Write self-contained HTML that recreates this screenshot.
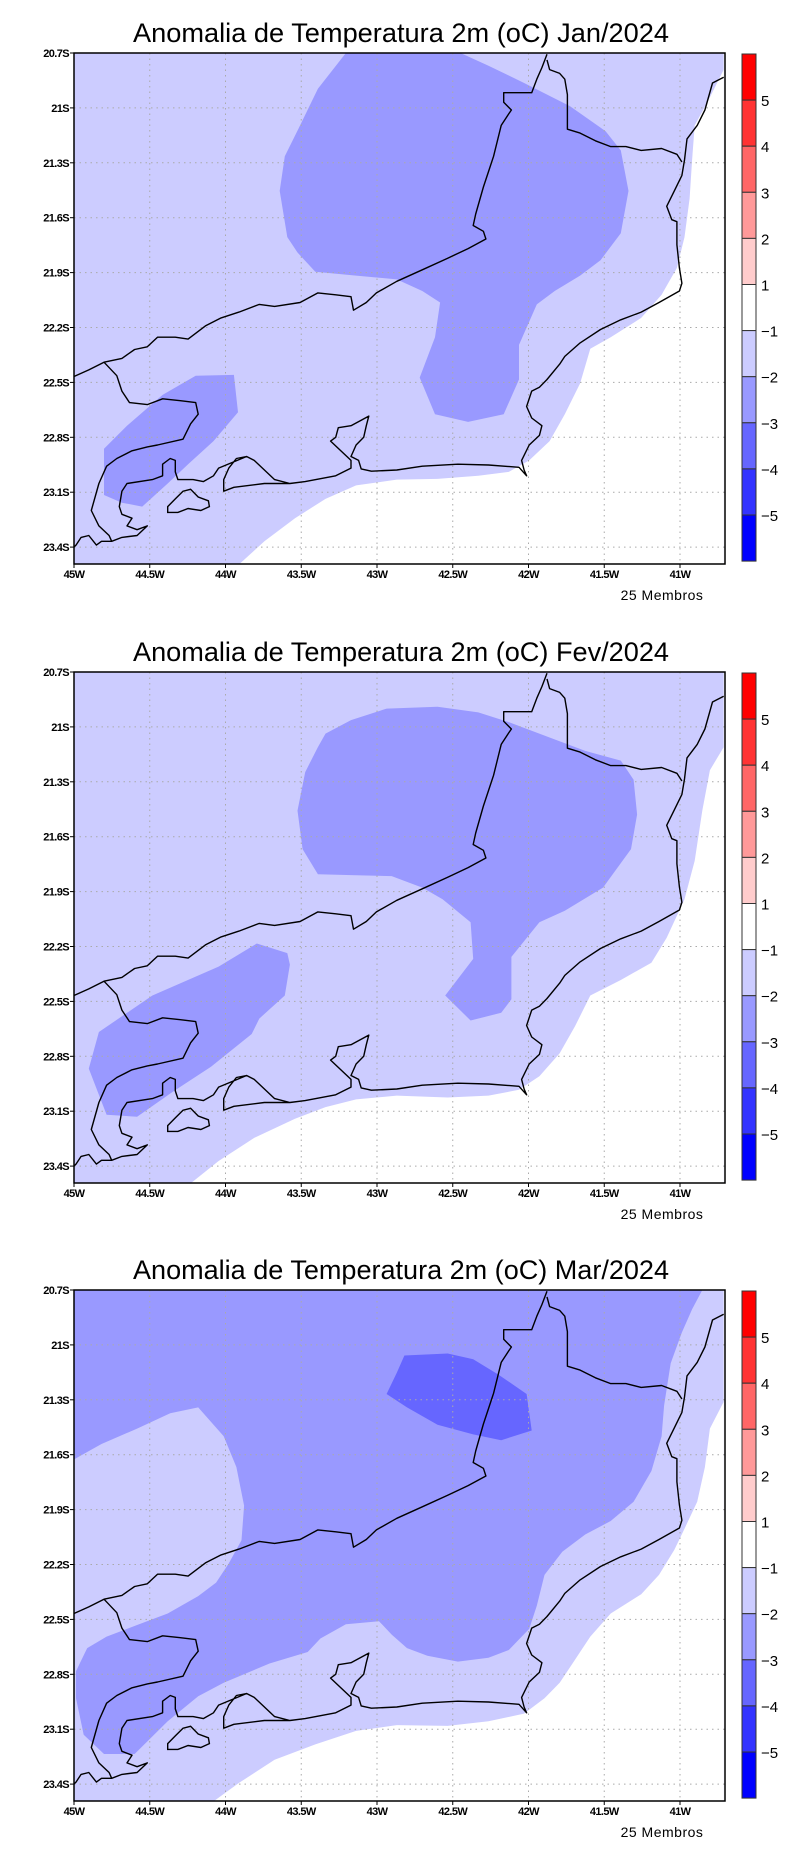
<!DOCTYPE html>
<html><head><meta charset="utf-8">
<style>
html,body{margin:0;padding:0;background:#fff;}
svg{display:block;}
text{font-family:"Liberation Sans",sans-serif;}
</style></head>
<body>
<svg id="fig" width="800" height="1854" viewBox="0 0 800 1854" xmlns="http://www.w3.org/2000/svg"></svg>
<script>
// ---- data ----
const titles = ["Anomalia de Temperatura 2m (oC) Jan/2024","Anomalia de Temperatura 2m (oC) Fev/2024","Anomalia de Temperatura 2m (oC) Mar/2024"];
const lonTicks = [45,44.5,44,43.5,43,42.5,42,41.5,41];
const lonLabels = ["45W","44.5W","44W","43.5W","43W","42.5W","42W","41.5W","41W"];
const latTicks = [20.7,21,21.3,21.6,21.9,22.2,22.5,22.8,23.1,23.4];
const latLabels = ["20.7S","21S","21.3S","21.6S","21.9S","22.2S","22.5S","22.8S","23.1S","23.4S"];
const cbColors = ["#ff0000","#ff3333","#ff6666","#ff9999","#ffcccc","#ffffff","#ccccff","#9999ff","#6666ff","#3333ff","#0000ff"];
const cbLabels = ["5","4","3","2","1","\u22121","\u22122","\u22123","\u22124","\u22125"];
const levelColor = {"-1":"#ccccff","-2":"#9999ff","-3":"#6666ff","0":"#ffffff"};

// contour regions (traced coords) per panel: [level, base-ref, points]
const jan = [
 ["-1",[[146,142],[1422,142],[1422,1470],[146,1470]]],
 ["0",[[470,1470],[520,1410],[580,1350],[640,1300],[700,1265],[780,1250],[860,1248],[940,1240],[1000,1230],[1040,1200],[1080,1150],[1110,1080],[1140,1000],[1160,910],[1200,880],[1260,830],[1300,770],[1330,700],[1345,620],[1355,520],[1360,420],[1365,330],[1390,270],[1422,185],[1422,1470]]],
 ["-2",[[680,142],[905,142],[960,175],[1030,220],[1120,280],[1190,345],[1220,395],[1235,500],[1220,610],[1180,680],[1140,720],[1090,760],[1055,795],[1020,900],[1020,990],[990,1080],[920,1100],[855,1080],[825,985],[855,880],[865,790],[830,760],[780,730],[700,720],[620,710],[585,660],[565,620],[550,500],[560,410],[590,330],[625,235]]],
 ["-2",[[205,1170],[250,1110],[320,1030],[385,980],[460,978],[468,1075],[420,1150],[370,1210],[330,1260],[280,1320],[240,1310],[205,1290]]]
];
const fev = [
 ["-1",[[146,142],[1422,142],[1422,1470],[146,1470]]],
 ["0",[[375,1470],[430,1412],[500,1352],[580,1302],[640,1272],[700,1252],[780,1242],[880,1247],[960,1242],[1020,1227],[1060,1192],[1100,1132],[1130,1062],[1160,982],[1220,942],[1280,897],[1310,832],[1345,732],[1365,632],[1380,502],[1395,397],[1422,337],[1422,1470]]],
 ["-2",[[640,302],[690,267],[760,237],[860,232],[940,247],[1000,272],[1080,312],[1150,347],[1220,372],[1245,422],[1252,512],[1240,602],[1185,702],[1110,762],[1060,792],[1005,882],[1005,992],[985,1027],[925,1047],[875,982],[930,887],[925,792],[870,732],[830,702],[770,672],[700,670],[625,667],[595,602],[585,502],[600,402],[625,337]]],
 ["-2",[[195,1077],[300,982],[430,907],[505,847],[565,872],[570,902],[560,982],[510,1042],[495,1082],[415,1167],[340,1232],[270,1297],[210,1292],[175,1172]]]
];
const mar = [
 ["-1",[[146,142],[1422,142],[1422,1470],[146,1470]]],
 ["-2",[[146,142],[1380,142],[1360,192],[1340,252],[1318,332],[1305,442],[1300,522],[1280,612],[1245,692],[1200,742],[1150,777],[1105,822],[1070,882],[1055,962],[1040,1022],[1000,1077],[960,1097],[900,1107],[840,1092],[800,1072],[770,1037],[745,1002],[680,1010],[630,1047],[605,1082],[530,1112],[440,1162],[390,1197],[330,1262],[265,1347],[205,1347],[165,1297],[150,1202],[150,1132],[172,1072],[210,1042],[270,1012],[330,982],[390,937],[425,902],[450,852],[475,792],[480,702],[465,602],[440,522],[390,447],[335,462],[270,502],[200,542],[146,582]]],
 ["0",[[420,1470],[470,1422],[540,1362],[620,1322],[700,1287],[780,1272],[880,1274],[960,1262],[1030,1242],[1070,1202],[1100,1162],[1130,1102],[1160,1042],[1200,982],[1260,932],[1295,882],[1325,817],[1345,762],[1370,692],[1385,602],[1395,502],[1422,432],[1422,1470]]],
 ["-3",[[795,312],[880,307],[930,322],[980,362],[1035,412],[1045,507],[985,532],[930,517],[860,492],[800,447],[760,412],[780,357]]]
];
const panels = [jan,fev,mar];

// map outlines (traced coords)
const borderMG = [[146,982],[175,965],[205,945],[240,935],[265,912],[290,905],[310,880],[345,880],[370,885],[405,850],[435,830],[470,815],[510,795],[540,800],[590,790],[625,765],[660,770],[690,775],[695,810],[720,790],[740,765],[780,735],[830,705],[880,675],[920,650],[955,625],[950,605],[930,590],[935,560],[950,490],[960,450],[970,410],[985,330],[1000,300],[1005,290],[990,270],[990,245],[1020,245],[1045,245],[1055,210],[1065,180],[1075,145]];
const borderES = [[1075,160],[1080,185],[1100,195],[1110,210],[1115,250],[1115,340],[1140,350],[1170,370],[1200,385],[1230,385],[1260,395],[1300,390],[1330,405],[1340,425]];
const coast = [[1422,205],[1400,220],[1385,290],[1370,330],[1350,365],[1345,420],[1340,460],[1325,500],[1310,540],[1320,575],[1330,580],[1330,640],[1335,700],[1340,740],[1335,760],[1295,790],[1260,815],[1220,835],[1180,860],[1140,895],[1110,930],[1100,950],[1075,990],[1060,1010],[1045,1020],[1035,1060],[1045,1090],[1065,1110],[1060,1135],[1040,1160],[1025,1200],[1030,1225],[1035,1240],[1020,1218],[960,1212],[900,1210],[830,1215],[780,1225],[730,1228],[710,1222],[705,1200],[690,1190],[700,1160],[715,1140],[720,1110],[725,1085],[690,1110],[665,1115],[660,1140],[650,1150],[670,1175],[690,1200],[690,1220],[660,1240],[600,1255],[570,1260],[540,1250],[500,1200],[485,1190],[465,1195],[450,1220],[440,1250],[440,1280],[460,1270],[520,1260],[570,1260],[540,1250],[500,1200],[485,1190],[430,1220],[420,1240],[400,1255],[380,1250],[350,1250],[345,1230],[345,1200],[335,1195],[320,1210],[320,1240],[300,1250],[250,1260],[240,1280],[235,1320],[240,1340],[260,1350],[250,1370],[270,1380],[290,1370],[270,1395],[240,1400],[220,1410],[200,1410],[190,1420],[175,1395],[160,1400],[150,1420],[146,1425]];
const borderSP = [[205,945],[230,980],[240,1020],[255,1050],[290,1055],[320,1040],[355,1045],[385,1050],[390,1080],[375,1105],[360,1145],[310,1160],[290,1165],[260,1175],[230,1195],[210,1215],[195,1260],[180,1330],[195,1370],[215,1395],[220,1410]];
const ilhaGrande = [[330,1320],[345,1300],[360,1280],[375,1275],[390,1295],[410,1305],[412,1320],[395,1330],[370,1325],[350,1335],[330,1335]];

// ---- layout ----
const NS = "http://www.w3.org/2000/svg";
const svg = document.getElementById("fig");
const L=74, R=725, T=53, B=564, panelOff=[0,619,1237];
function lonX(lon){return L+(45-lon)*151.5;}
function latY(lat,off){return off+T+(lat-20.7)*183;}
function tx(zx){return L+(zx-146)/1.964;}
function ty(zy,off){return off+T+(zy-142)/2.597;}
function mk(tag,attrs,parent){const e=document.createElementNS(NS,tag);for(const k in attrs)e.setAttribute(k,attrs[k]);(parent||svg).appendChild(e);return e;}
function pts(arr,off){return arr.map(p=>tx(p[0]).toFixed(1)+","+ty(p[1],off).toFixed(1)).join(" ");}

panels.forEach((regions,pi)=>{
  const off=panelOff[pi];
  const g=mk("g",{});
  
  
  const cp=mk("clipPath",{id:"clip"+pi},g);
  mk("rect",{x:L,y:off+T,width:R-L,height:B-T},cp);
  const title=mk("text",{x:401,y:off+42,"text-anchor":"middle","font-size":"27","textLength":"536","lengthAdjust":"spacingAndGlyphs",fill:"#000"},g);
  title.textContent=titles[pi];
  
  
  const cg=mk("g",{"clip-path":"url(#clip"+pi+")"},g);
  regions.forEach(r=>{
    const poly=mk("polygon",{points:pts(r[1],off),fill:levelColor[r[0]]},cg);
    
    
  });
  // grid
  lonTicks.slice(1).forEach(lon=>{
    const ln=mk("line",{x1:lonX(lon),x2:lonX(lon),y1:off+T,y2:off+B,stroke:"#aaa","stroke-width":"1","stroke-dasharray":"1.5,4"},cg);
    
    
  });
  latTicks.slice(1).forEach(lat=>{
    const ln=mk("line",{x1:L,x2:R,y1:latY(lat,off),y2:latY(lat,off),stroke:"#aaa","stroke-width":"1","stroke-dasharray":"1.5,4"},cg);
    
    
  });
  // outlines
  [borderMG,borderES,coast,borderSP].forEach(line=>{
    const pl=mk("polyline",{points:pts(line,off),fill:"none",stroke:"#000","stroke-width":"1.4","stroke-linejoin":"round"},cg);
    
    
  });
  const ig=mk("polygon",{points:pts(ilhaGrande,off),fill:"none",stroke:"#000","stroke-width":"1.4"},cg);
  
  
  // frame
  const fr=mk("rect",{x:L,y:off+T,width:R-L,height:B-T,fill:"none",stroke:"#000","stroke-width":"1.5"},g);
  
  
  // ticks + labels
  lonTicks.forEach((lon,i)=>{
    const x=lonX(lon);
    mk("line",{x1:x,x2:x,y1:off+B,y2:off+B+4,stroke:"#000","stroke-width":"1"},g);
    const t=mk("text",{x:x,y:off+B+14,"text-anchor":"middle","font-size":"11","font-weight":"bold",fill:"#000","letter-spacing":"-0.6"},g);
    t.textContent=lonLabels[i];
    
    
  });
  latTicks.forEach((lat,i)=>{
    const y=latY(lat,off);
    mk("line",{x1:L-4,x2:L,y1:y,y2:y,stroke:"#000","stroke-width":"1"},g);
    const t=mk("text",{x:L-5,y:y+4,"text-anchor":"end","font-size":"11","font-weight":"bold",fill:"#000","letter-spacing":"-0.6"},g);
    t.textContent=latLabels[i];
    
    
  });
  const mem=mk("text",{x:662,y:off+B+36,"text-anchor":"middle","font-size":"14",fill:"#000","letter-spacing":"0.5"},g);
  mem.textContent="25 Membros";
  
  
  // colorbar
  const cb=mk("g",{},g);
  
  
  const segH=46.1, cbx=742, cbw=14, cby=off+54;
  cbColors.forEach((c,i)=>{
    const r=mk("rect",{x:cbx,y:cby+i*segH,width:cbw,height:segH,fill:c,stroke:"#333","stroke-width":"1"},cb);
    
    
  });
  cbLabels.forEach((lb,i)=>{
    const t=mk("text",{x:cbx+cbw+5,y:cby+(i+1)*segH+6,"font-size":"15",fill:"#000"},cb);
    t.textContent=lb;
    
    
  });
});
</script>
</body></html>
